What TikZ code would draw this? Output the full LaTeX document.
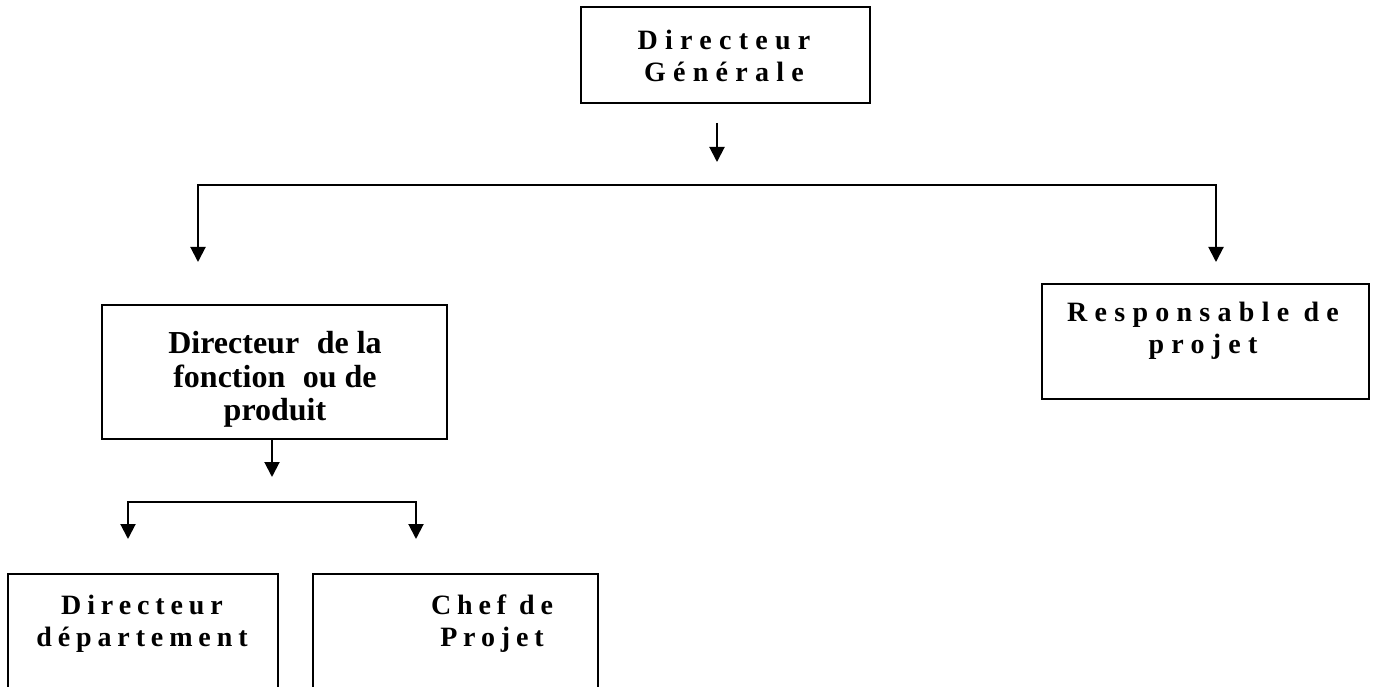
\documentclass[tikz,border=0pt]{standalone}
\usepackage{fontspec}
\setmainfont{Liberation Serif}
\newfontfamily\widefont[LetterSpace=26]{Liberation Serif}
\newfontfamily\midfont[LetterSpace=21]{Liberation Serif}
\usetikzlibrary{arrows.meta}
\begin{document}
\begin{tikzpicture}[x=1pt,y=-1pt,
  box/.style={draw,line width=2pt,inner sep=0pt,minimum width=#1},
  spaced/.style={font=\widefont\bfseries\fontsize{28}{32}\selectfont,align=center,inner sep=0pt},
  spacedsmall/.style={font=\midfont\bfseries\fontsize{28}{32}\selectfont,align=center,inner sep=0pt},
  plain/.style={font=\bfseries\fontsize{32}{33.5}\selectfont,align=center,inner sep=0pt},
  arr/.style={line width=2pt,-{Triangle[width=15pt,length=15pt]}},
  arrboth/.style={line width=2pt,{Triangle[width=15pt,length=15pt]}-{Triangle[width=15pt,length=15pt]}}
]
\useasboundingbox (0,0) rectangle (1374,687);
\clip (0,0) rectangle (1374,687);

% boxes
\node[box=289pt,minimum height=96pt] (dg) at (725.5,55) {};
\node[box=345pt,minimum height=134pt] (dfp) at (274.5,372) {};
\node[box=327pt,minimum height=115pt] (rp) at (1205.5,341.5) {};
\node[box=270pt,minimum height=146pt] (dd) at (143,647) {};
\node[box=285pt,minimum height=146pt] (cp) at (455.5,647) {};

% labels
\node[spaced] (dgt) at (724,56) {Directeur\\Générale};
\node[plain] (dfpt) at (275,379.5) {Directeur\hspace{0.3em} de la\\fonction\hspace{0.3em} ou de\\produit};
\node[spaced] (rpt) at (1203,331) {Responsable de\\projet};
\node[spacedsmall] (ddt) at (142,624) {Directeur\\département};
\node[spacedsmall] (cpt) at (492,624) {Chef de\\Projet};

% connector points
\coordinate (a1s) at (717,123);
\coordinate (a1e) at (717,162);
\coordinate (bl) at (198,185);
\coordinate (br) at (1216,185);
\coordinate (ble) at (198,262);
\coordinate (bre) at (1216,262);
\coordinate (a2e) at (272,477);
\coordinate (cl) at (128,502);
\coordinate (cr) at (416,502);
\coordinate (cle) at (128,539);
\coordinate (cre) at (416,539);

% connectors
\draw[arr] (a1s) -- (a1e);
\draw[arrboth] (ble) -- (bl) -- (br) -- (bre);
\draw[arr] (dfp.south -| a2e) -- (a2e);
\draw[arrboth] (cle) -- (cl) -- (cr) -- (cre);
\end{tikzpicture}
\end{document}
